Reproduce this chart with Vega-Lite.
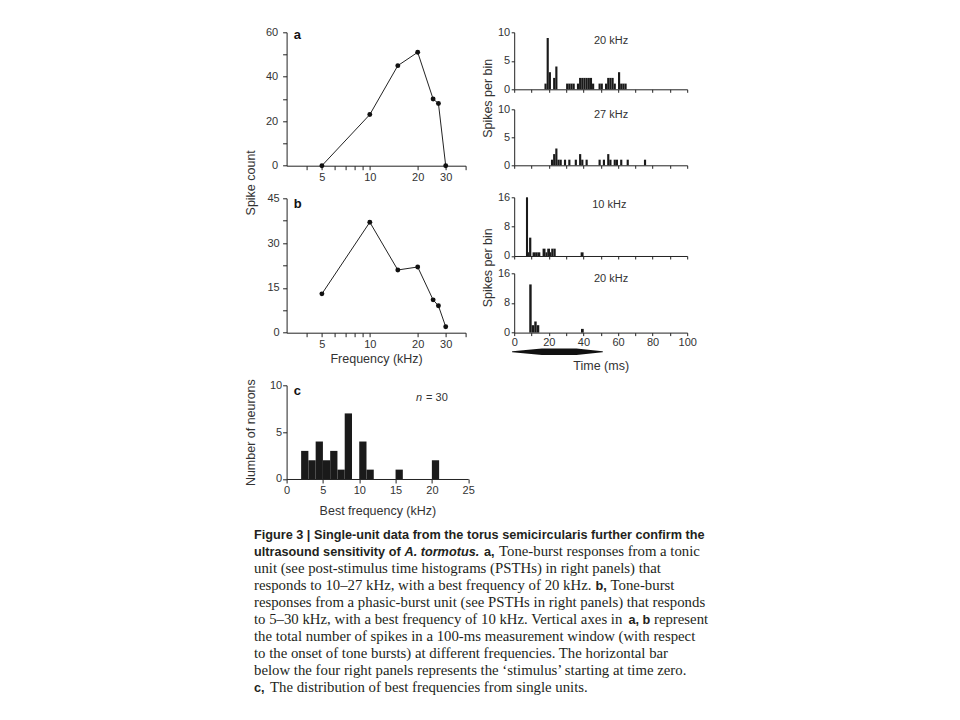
{
  "$schema": "https://vega.github.io/schema/vega-lite/v6.json",
  "background": "white",
  "padding": {"left": 243.6, "top": 26.3, "right": 10, "bottom": 10},
  "config": {
    "view": {"stroke": null},
    "axis": {"grid": false, "domainColor": "#222", "tickColor": "#222", "labelColor": "#333", "titleColor": "#333",
      "labelFont": "Liberation Sans", "titleFont": "Liberation Sans", "labelFontSize": 11, "titleFontSize": 12.5,
      "titleFontWeight": "normal", "labelFlush": false, "labelOverlap": false, "labelBound": false, "domainWidth": 1, "tickWidth": 1},
    "text": {"font": "Liberation Sans", "fontSize": 11, "color": "#333"}
  },
  "datasets": {
    "tuning": [
      {"panel": "a", "freq": 5, "count": 0}, {"panel": "a", "freq": 10, "count": 23}, {"panel": "a", "freq": 15, "count": 45},
      {"panel": "a", "freq": 20, "count": 51}, {"panel": "a", "freq": 25, "count": 30}, {"panel": "a", "freq": 27, "count": 28},
      {"panel": "a", "freq": 30, "count": 0},
      {"panel": "b", "freq": 5, "count": 13}, {"panel": "b", "freq": 10, "count": 37}, {"panel": "b", "freq": 15, "count": 21},
      {"panel": "b", "freq": 20, "count": 22}, {"panel": "b", "freq": 25, "count": 11}, {"panel": "b", "freq": 27, "count": 9},
      {"panel": "b", "freq": 30, "count": 2}
    ],
    "bestfreq": [
      {"lo": 2, "hi": 3, "n": 3}, {"lo": 3, "hi": 4, "n": 2}, {"lo": 4, "hi": 5, "n": 4}, {"lo": 5, "hi": 6, "n": 2},
      {"lo": 6, "hi": 7, "n": 3}, {"lo": 7, "hi": 8, "n": 1}, {"lo": 8, "hi": 9, "n": 7}, {"lo": 10, "hi": 11, "n": 4},
      {"lo": 11, "hi": 12, "n": 1}, {"lo": 15, "hi": 16, "n": 1}, {"lo": 20, "hi": 21, "n": 2}
    ],
    "psth": [
      {"panel": "p1", "t": 17.5, "t2": 18.75, "n": 1}, {"panel": "p1", "t": 18.75, "t2": 20, "n": 9}, {"panel": "p1", "t": 20, "t2": 21.25, "n": 3},
      {"panel": "p1", "t": 22.5, "t2": 23.75, "n": 2}, {"panel": "p1", "t": 23.75, "t2": 25, "n": 4}, {"panel": "p1", "t": 30, "t2": 31.25, "n": 1},
      {"panel": "p1", "t": 31.25, "t2": 32.5, "n": 1}, {"panel": "p1", "t": 32.5, "t2": 33.75, "n": 1}, {"panel": "p1", "t": 33.75, "t2": 35, "n": 1},
      {"panel": "p1", "t": 36.25, "t2": 37.5, "n": 1}, {"panel": "p1", "t": 37.5, "t2": 38.75, "n": 2}, {"panel": "p1", "t": 38.75, "t2": 40, "n": 2},
      {"panel": "p1", "t": 40, "t2": 41.25, "n": 2}, {"panel": "p1", "t": 41.25, "t2": 42.5, "n": 2}, {"panel": "p1", "t": 42.5, "t2": 43.75, "n": 2},
      {"panel": "p1", "t": 43.75, "t2": 45, "n": 2}, {"panel": "p1", "t": 45, "t2": 46.25, "n": 1}, {"panel": "p1", "t": 48.75, "t2": 50, "n": 1},
      {"panel": "p1", "t": 50, "t2": 51.25, "n": 1}, {"panel": "p1", "t": 52.5, "t2": 53.75, "n": 1}, {"panel": "p1", "t": 53.75, "t2": 55, "n": 2},
      {"panel": "p1", "t": 55, "t2": 56.25, "n": 2}, {"panel": "p1", "t": 56.25, "t2": 57.5, "n": 2}, {"panel": "p1", "t": 57.5, "t2": 58.75, "n": 1},
      {"panel": "p1", "t": 60, "t2": 61.25, "n": 3}, {"panel": "p1", "t": 61.25, "t2": 62.5, "n": 1}, {"panel": "p1", "t": 62.5, "t2": 63.75, "n": 1},
      {"panel": "p1", "t": 63.75, "t2": 65, "n": 1},
      {"panel": "p2", "t": 21.25, "t2": 22.5, "n": 1}, {"panel": "p2", "t": 22.5, "t2": 23.75, "n": 2}, {"panel": "p2", "t": 23.75, "t2": 25, "n": 3},
      {"panel": "p2", "t": 25, "t2": 26.25, "n": 1}, {"panel": "p2", "t": 26.25, "t2": 27.5, "n": 1}, {"panel": "p2", "t": 28.75, "t2": 30, "n": 1},
      {"panel": "p2", "t": 31.25, "t2": 32.5, "n": 1}, {"panel": "p2", "t": 35, "t2": 36.25, "n": 1}, {"panel": "p2", "t": 37.5, "t2": 38.75, "n": 2},
      {"panel": "p2", "t": 38.75, "t2": 40, "n": 1}, {"panel": "p2", "t": 41.25, "t2": 42.5, "n": 1}, {"panel": "p2", "t": 48.75, "t2": 50, "n": 1},
      {"panel": "p2", "t": 51.25, "t2": 52.5, "n": 1}, {"panel": "p2", "t": 53.75, "t2": 55, "n": 2}, {"panel": "p2", "t": 55, "t2": 56.25, "n": 1},
      {"panel": "p2", "t": 57.5, "t2": 58.75, "n": 1}, {"panel": "p2", "t": 58.75, "t2": 60, "n": 1}, {"panel": "p2", "t": 61.25, "t2": 62.5, "n": 1},
      {"panel": "p2", "t": 65, "t2": 66.25, "n": 1}, {"panel": "p2", "t": 75, "t2": 76.25, "n": 1},
      {"panel": "p3", "t": 6.8, "t2": 8.0, "n": 16}, {"panel": "p3", "t": 8.0, "t2": 8.6, "n": 1}, {"panel": "p3", "t": 8.6, "t2": 9.9, "n": 5},
      {"panel": "p3", "t": 10.6, "t2": 12.1, "n": 1}, {"panel": "p3", "t": 12.1, "t2": 13.6, "n": 1}, {"panel": "p3", "t": 13.6, "t2": 15.1, "n": 1},
      {"panel": "p3", "t": 16.4, "t2": 18.1, "n": 2}, {"panel": "p3", "t": 18.1, "t2": 19.1, "n": 1}, {"panel": "p3", "t": 19.1, "t2": 20.7, "n": 2},
      {"panel": "p3", "t": 20.7, "t2": 21.4, "n": 1}, {"panel": "p3", "t": 21.4, "t2": 22.7, "n": 2}, {"panel": "p3", "t": 22.7, "t2": 24.0, "n": 2},
      {"panel": "p3", "t": 38.4, "t2": 40.1, "n": 1},
      {"panel": "p4", "t": 8.7, "t2": 10.1, "n": 13}, {"panel": "p4", "t": 10.1, "t2": 11.6, "n": 2}, {"panel": "p4", "t": 11.6, "t2": 13.0, "n": 3},
      {"panel": "p4", "t": 13.0, "t2": 14.5, "n": 2}, {"panel": "p4", "t": 38.6, "t2": 40.2, "n": 1}
    ],
    "stimulus": [
      {"t": -1, "w": 0}, {"t": 16, "w": 1}, {"t": 36, "w": 1}, {"t": 51, "w": 0}
    ],
    "labels": [
      {"key": "a", "text": "a"}, {"key": "b", "text": "b"}, {"key": "c", "text": "c"},
      {"key": "p1", "text": "20 kHz"}, {"key": "p2", "text": "27 kHz"}, {"key": "p3", "text": "10 kHz"}, {"key": "p4", "text": "20 kHz"},
      {"key": "n", "text": "n"}, {"key": "eq", "text": "= 30"}
    ],
    "caption": [
      {"line": 1, "seg": "s1", "text": "Figure 3 | Single-unit data from the torus semicircularis further confirm the"},
      {"line": 2, "seg": "s1", "text": "ultrasound sensitivity of"},
      {"line": 2, "seg": "i1", "text": "A. tormotus."},
      {"line": 2, "seg": "b1", "text": "a,"},
      {"line": 2, "seg": "r1", "text": "Tone-burst responses from a tonic"},
      {"line": 3, "seg": "r0", "text": "unit (see post-stimulus time histograms (PSTHs) in right panels) that"},
      {"line": 4, "seg": "r0", "text": "responds to 10–27 kHz, with a best frequency of 20 kHz."},
      {"line": 4, "seg": "b2", "text": "b,"},
      {"line": 4, "seg": "r2", "text": "Tone-burst"},
      {"line": 5, "seg": "r0", "text": "responses from a phasic-burst unit (see PSTHs in right panels) that responds"},
      {"line": 6, "seg": "r0", "text": "to 5–30 kHz, with a best frequency of 10 kHz. Vertical axes in"},
      {"line": 6, "seg": "b3", "text": "a, b"},
      {"line": 6, "seg": "r3", "text": "represent"},
      {"line": 7, "seg": "r0", "text": "the total number of spikes in a 100-ms measurement window (with respect"},
      {"line": 8, "seg": "r0", "text": "to the onset of tone bursts) at different frequencies. The horizontal bar"},
      {"line": 9, "seg": "r0", "text": "below the four right panels represents the ‘stimulus’ starting at time zero."},
      {"line": 10, "seg": "s1", "text": "c,"},
      {"line": 10, "seg": "r4", "text": "The distribution of best frequencies from single units."}
    ]
  },
  "spacing": 12,
  "vconcat": [
    {
      "spacing": 5.6,
      "hconcat": [
        {
          "bounds": "flush",
          "spacing": 0,
          "vconcat": [
            {
              "width": 179, "height": 133.4,
              "layer": [
                {
                  "data": {"name": "tuning"}, "transform": [{"filter": "datum.panel === 'a'"}],
                  "mark": {"type": "line", "color": "#222", "strokeWidth": 1},
                  "encoding": {
                    "x": {"field": "freq", "type": "quantitative", "scale": {"type": "log", "domain": [3, 40], "nice": false},
                      "axis": {"values": [4, 5, 6, 7, 8, 9, 10, 20, 30, 40], "tickCount": 100, "labelExpr": "indexof([5,10,20,30], datum.value) >= 0 ? format(datum.value, 'd') : ''", "tickSize": 4, "labelPadding": 2, "title": null}},
                    "y": {"field": "count", "type": "quantitative", "scale": {"domain": [0, 60], "nice": false},
                      "axis": {"values": [0, 10, 20, 30, 40, 50, 60], "tickCount": 100, "labelExpr": "datum.value % 20 === 0 ? format(datum.value, 'd') : ''", "tickSize": 4, "labelPadding": 5, "title": "Spike count", "titleX": -29, "titleY": 150}}
                  }
                },
                {
                  "data": {"name": "tuning"}, "transform": [{"filter": "datum.panel === 'a'"}],
                  "mark": {"type": "point", "filled": true, "size": 24, "color": "#111", "opacity": 1},
                  "encoding": {"x": {"field": "freq", "type": "quantitative"}, "y": {"field": "count", "type": "quantitative"}}
                },
                {
                  "data": {"name": "labels"}, "transform": [{"filter": "datum.key === 'a'"}],
                  "mark": {"type": "text", "fontWeight": "bold", "fontSize": 13, "align": "center", "baseline": "alphabetic", "color": "#111"},
                  "encoding": {"x": {"datum": 3.51, "type": "quantitative"}, "y": {"datum": 57, "type": "quantitative"}, "text": {"field": "text"}}
                }
              ]
            },
            {"width": 10, "height": 31.6, "data": {"values": []}, "mark": {"type": "point"}, "encoding": {}},
            {
              "width": 179, "height": 134.4,
              "layer": [
                {
                  "data": {"name": "tuning"}, "transform": [{"filter": "datum.panel === 'b'"}],
                  "mark": {"type": "line", "color": "#222", "strokeWidth": 1},
                  "encoding": {
                    "x": {"field": "freq", "type": "quantitative", "scale": {"type": "log", "domain": [3, 40], "nice": false},
                      "axis": {"values": [4, 5, 6, 7, 8, 9, 10, 20, 30, 40], "tickCount": 100, "labelExpr": "indexof([5,10,20,30], datum.value) >= 0 ? format(datum.value, 'd') : ''", "tickSize": 4, "labelPadding": 2, "title": "Frequency (kHz)", "titleY": 19.5}},
                    "y": {"field": "count", "type": "quantitative", "scale": {"domain": [0, 45], "nice": false},
                      "axis": {"values": [0, 7.5, 15, 22.5, 30, 37.5, 45], "tickCount": 100, "labelExpr": "datum.value % 15 === 0 ? format(datum.value, 'd') : ''", "tickSize": 4, "labelPadding": 3.5, "title": null}}
                  }
                },
                {
                  "data": {"name": "tuning"}, "transform": [{"filter": "datum.panel === 'b'"}],
                  "mark": {"type": "point", "filled": true, "size": 24, "color": "#111", "opacity": 1},
                  "encoding": {"x": {"field": "freq", "type": "quantitative"}, "y": {"field": "count", "type": "quantitative"}}
                },
                {
                  "data": {"name": "labels"}, "transform": [{"filter": "datum.key === 'b'"}],
                  "mark": {"type": "text", "fontWeight": "bold", "fontSize": 13, "align": "center", "baseline": "alphabetic", "color": "#111"},
                  "encoding": {"x": {"datum": 3.53, "type": "quantitative"}, "y": {"datum": 41.65, "type": "quantitative"}, "text": {"field": "text"}}
                }
              ]
            },
            {"width": 10, "height": 51.3, "data": {"values": []}, "mark": {"type": "point"}, "encoding": {}},
            {
              "width": 181.6, "height": 93.7,
              "layer": [
                {
                  "data": {"name": "bestfreq"},
                  "mark": {"type": "bar", "color": "#1a1a1a"},
                  "encoding": {
                    "x": {"field": "lo", "type": "quantitative", "scale": {"domain": [0, 25], "nice": false},
                      "axis": {"values": [0, 5, 10, 15, 20, 25], "tickCount": 100, "labelExpr": "format(datum.value, 'd')", "tickSize": 4, "labelPadding": 2, "title": "Best frequency (kHz)", "titleY": 25.5}},
                    "x2": {"field": "hi"},
                    "y": {"field": "n", "type": "quantitative", "stack": null, "scale": {"domain": [0, 10], "nice": false},
                      "axis": {"values": [0, 5, 10], "tickCount": 100, "labelExpr": "format(datum.value, 'd')", "tickSize": 4, "labelPadding": 1, "title": "Number of neurons", "titleX": -29.5}},
                    "y2": {"datum": 0}
                  }
                },
                {
                  "data": {"name": "labels"}, "transform": [{"filter": "datum.key === 'c'"}],
                  "mark": {"type": "text", "fontWeight": "bold", "fontSize": 13, "align": "center", "baseline": "alphabetic", "color": "#111"},
                  "encoding": {"x": {"datum": 1.49, "type": "quantitative"}, "y": {"datum": 9.0, "type": "quantitative"}, "text": {"field": "text"}}
                },
                {
                  "data": {"name": "labels"}, "transform": [{"filter": "datum.key === 'n'"}],
                  "mark": {"type": "text", "fontStyle": "italic", "align": "left", "baseline": "alphabetic"},
                  "encoding": {"x": {"datum": 17.8, "type": "quantitative"}, "y": {"datum": 8.37, "type": "quantitative"}, "text": {"field": "text"}}
                },
                {
                  "data": {"name": "labels"}, "transform": [{"filter": "datum.key === 'eq'"}],
                  "mark": {"type": "text", "align": "left", "baseline": "alphabetic"},
                  "encoding": {"x": {"datum": 19.2, "type": "quantitative"}, "y": {"datum": 8.37, "type": "quantitative"}, "text": {"field": "text"}}
                }
              ]
            }
          ]
        },
        {
          "bounds": "flush",
          "spacing": 0,
          "vconcat": [
            {
              "width": 173, "height": 57,
              "layer": [
                {
                  "data": {"name": "psth"}, "transform": [{"filter": "datum.panel === 'p1'"}],
                  "mark": {"type": "bar", "color": "#1a1a1a"},
                  "encoding": {
                    "x": {"field": "t", "type": "quantitative", "scale": {"domain": [0, 100], "nice": false},
                      "axis": {"values": [0, 10, 20, 30, 40, 50, 60, 70, 80, 90, 100], "tickCount": 100, "labels": false, "tickSize": 3, "title": null}},
                    "x2": {"field": "t2"},
                    "y": {"field": "n", "type": "quantitative", "stack": null, "scale": {"domain": [0, 10], "nice": false},
                      "axis": {"values": [0, 5, 10], "tickCount": 100, "labelExpr": "format(datum.value, 'd')", "tickSize": 3, "labelPadding": 1.5, "title": "Spikes per bin", "titleX": -20, "titleY": 65.5}},
                    "y2": {"datum": 0}
                  }
                },
                {
                  "data": {"name": "labels"}, "transform": [{"filter": "datum.key === 'p1'"}],
                  "mark": {"type": "text", "align": "center", "baseline": "middle"},
                  "encoding": {"x": {"datum": 56, "type": "quantitative"}, "y": {"datum": 8.45, "type": "quantitative"}, "text": {"field": "text"}}
                }
              ]
            },
            {"width": 10, "height": 20, "data": {"values": []}, "mark": {"type": "point"}, "encoding": {}},
            {
              "width": 173, "height": 56,
              "layer": [
                {
                  "data": {"name": "psth"}, "transform": [{"filter": "datum.panel === 'p2'"}],
                  "mark": {"type": "bar", "color": "#1a1a1a"},
                  "encoding": {
                    "x": {"field": "t", "type": "quantitative", "scale": {"domain": [0, 100], "nice": false},
                      "axis": {"values": [0, 10, 20, 30, 40, 50, 60, 70, 80, 90, 100], "tickCount": 100, "labels": false, "tickSize": 3, "title": null}},
                    "x2": {"field": "t2"},
                    "y": {"field": "n", "type": "quantitative", "stack": null, "scale": {"domain": [0, 10], "nice": false},
                      "axis": {"values": [0, 5, 10], "tickCount": 100, "labelExpr": "format(datum.value, 'd')", "tickSize": 3, "labelPadding": 1.5, "title": null}},
                    "y2": {"datum": 0}
                  }
                },
                {
                  "data": {"name": "labels"}, "transform": [{"filter": "datum.key === 'p2'"}],
                  "mark": {"type": "text", "align": "center", "baseline": "middle"},
                  "encoding": {"x": {"datum": 56, "type": "quantitative"}, "y": {"datum": 9.0, "type": "quantitative"}, "text": {"field": "text"}}
                }
              ]
            },
            {"width": 10, "height": 32, "data": {"values": []}, "mark": {"type": "point"}, "encoding": {}},
            {
              "width": 173, "height": 58.7,
              "layer": [
                {
                  "data": {"name": "psth"}, "transform": [{"filter": "datum.panel === 'p3'"}],
                  "mark": {"type": "bar", "color": "#1a1a1a"},
                  "encoding": {
                    "x": {"field": "t", "type": "quantitative", "scale": {"domain": [0, 100], "nice": false},
                      "axis": {"values": [0, 10, 20, 30, 40, 50, 60, 70, 80, 90, 100], "tickCount": 100, "labels": false, "tickSize": 3, "title": null}},
                    "x2": {"field": "t2"},
                    "y": {"field": "n", "type": "quantitative", "stack": null, "scale": {"domain": [0, 16], "nice": false},
                      "axis": {"values": [0, 8, 16], "tickCount": 100, "labelExpr": "format(datum.value, 'd')", "tickSize": 3, "labelPadding": 1.5, "title": "Spikes per bin", "titleX": -20, "titleY": 70}},
                    "y2": {"datum": 0}
                  }
                },
                {
                  "data": {"name": "labels"}, "transform": [{"filter": "datum.key === 'p3'"}],
                  "mark": {"type": "text", "align": "center", "baseline": "middle"},
                  "encoding": {"x": {"datum": 55, "type": "quantitative"}, "y": {"datum": 13.8, "type": "quantitative"}, "text": {"field": "text"}}
                }
              ]
            },
            {"width": 10, "height": 16.3, "data": {"values": []}, "mark": {"type": "point"}, "encoding": {}},
            {
              "width": 173, "height": 59.3,
              "layer": [
                {
                  "data": {"name": "psth"}, "transform": [{"filter": "datum.panel === 'p4'"}],
                  "mark": {"type": "bar", "color": "#1a1a1a"},
                  "encoding": {
                    "x": {"field": "t", "type": "quantitative", "scale": {"domain": [0, 100], "nice": false},
                      "axis": {"values": [0, 10, 20, 30, 40, 50, 60, 70, 80, 90, 100], "tickCount": 100, "labelExpr": "datum.value % 20 === 0 ? format(datum.value, 'd') : ''", "tickSize": 3, "labelPadding": 1, "title": "Time (ms)", "titleY": 27}},
                    "x2": {"field": "t2"},
                    "y": {"field": "n", "type": "quantitative", "stack": null, "scale": {"domain": [0, 16], "nice": false},
                      "axis": {"values": [0, 8, 16], "tickCount": 100, "labelExpr": "format(datum.value, 'd')", "tickSize": 3, "labelPadding": 1.5, "title": null}},
                    "y2": {"datum": 0}
                  }
                },
                {
                  "data": {"name": "stimulus"},
                  "mark": {"type": "trail", "color": "#111"},
                  "encoding": {
                    "x": {"field": "t", "type": "quantitative", "scale": {"domain": [0, 100], "nice": false}},
                    "y": {"datum": -5.2, "type": "quantitative", "scale": {"domain": [0, 16], "nice": false}},
                    "size": {"field": "w", "type": "quantitative", "scale": {"domain": [0, 1], "range": [0, 6.5]}, "legend": null}
                  }
                },
                {
                  "data": {"name": "labels"}, "transform": [{"filter": "datum.key === 'p4'"}],
                  "mark": {"type": "text", "align": "center", "baseline": "middle"},
                  "encoding": {"x": {"datum": 56, "type": "quantitative"}, "y": {"datum": 14.4, "type": "quantitative"}, "text": {"field": "text"}}
                }
              ]
            }
          ]
        }
      ]
    },
    {
      "width": 451, "height": 153,
      "data": {"name": "caption"},
      "encoding": {
        "x": {"datum": 0, "type": "quantitative", "scale": {"domain": [0, 1]}, "axis": null},
        "y": {"field": "line", "type": "quantitative", "scale": {"domain": [1, 10], "reverse": true, "nice": false}, "axis": null},
        "text": {"field": "text"}
      },
      "layer": [
        {"transform": [{"filter": "datum.seg === 's1'"}], "mark": {"type": "text", "align": "left", "baseline": "alphabetic", "font": "Liberation Sans", "fontWeight": "bold", "fontSize": 12.7, "color": "#231f20", "dx": -32.6}},
        {"transform": [{"filter": "datum.seg === 'i1'"}], "mark": {"type": "text", "align": "left", "baseline": "alphabetic", "font": "Liberation Sans", "fontWeight": "bold", "fontStyle": "italic", "fontSize": 12.7, "color": "#231f20", "dx": 117.9}},
        {"transform": [{"filter": "datum.seg === 'b1'"}], "mark": {"type": "text", "align": "left", "baseline": "alphabetic", "font": "Liberation Sans", "fontWeight": "bold", "fontSize": 12.7, "color": "#231f20", "dx": 197.4}},
        {"transform": [{"filter": "datum.seg === 'r1'"}], "mark": {"type": "text", "align": "left", "baseline": "alphabetic", "font": "Liberation Serif", "fontSize": 14.8, "color": "#231f20", "dx": 212.4}},
        {"transform": [{"filter": "datum.seg === 'r0'"}], "mark": {"type": "text", "align": "left", "baseline": "alphabetic", "font": "Liberation Serif", "fontSize": 14.8, "color": "#231f20", "dx": -32.6}},
        {"transform": [{"filter": "datum.seg === 'b2'"}], "mark": {"type": "text", "align": "left", "baseline": "alphabetic", "font": "Liberation Sans", "fontWeight": "bold", "fontSize": 12.7, "color": "#231f20", "dx": 309.0}},
        {"transform": [{"filter": "datum.seg === 'r2'"}], "mark": {"type": "text", "align": "left", "baseline": "alphabetic", "font": "Liberation Serif", "fontSize": 14.8, "color": "#231f20", "dx": 324.0}},
        {"transform": [{"filter": "datum.seg === 'b3'"}], "mark": {"type": "text", "align": "left", "baseline": "alphabetic", "font": "Liberation Sans", "fontWeight": "bold", "fontSize": 12.7, "color": "#231f20", "dx": 341.8}},
        {"transform": [{"filter": "datum.seg === 'r3'"}], "mark": {"type": "text", "align": "left", "baseline": "alphabetic", "font": "Liberation Serif", "fontSize": 14.8, "color": "#231f20", "dx": 367.4}},
        {"transform": [{"filter": "datum.seg === 'r4'"}], "mark": {"type": "text", "align": "left", "baseline": "alphabetic", "font": "Liberation Serif", "fontSize": 14.8, "color": "#231f20", "dx": -16.6}}
      ]
    }
  ]
}
